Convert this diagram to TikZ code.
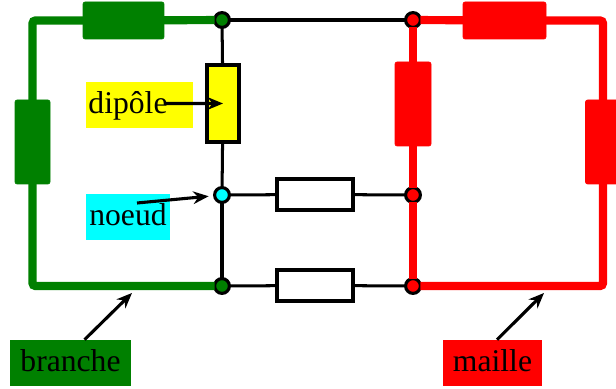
\documentclass[tikz,border=0pt]{standalone}
\usepackage{fontspec}
\setmainfont{Liberation Serif}
\usepackage{tikz}
\usetikzlibrary{arrows.meta}
\definecolor{vert}{RGB}{0,128,0}
\definecolor{rouge}{RGB}{255,0,0}
\definecolor{jaune}{RGB}{255,255,0}
\definecolor{bleu}{RGB}{0,255,255}
\tikzset{
  noeud/.style={circle,draw=black,line width=2.2pt,minimum size=0.37cm,inner sep=0pt,outer sep=0pt},
  plein/.style={rectangle,rounded corners=1.5pt,inner sep=0pt,outer sep=0pt,fill=#1,draw=#1,line width=0.5pt},
  ouvert/.style={rectangle,inner sep=0pt,outer sep=0pt,draw=black,line width=2.15pt},
  etiquette/.style={rectangle,inner sep=0pt,minimum height=1.15cm,text height=16pt,text depth=3.8pt,font=\fontsize{22.5}{27}\selectfont},
  fil/.style={line width=2.15pt},
  filcolore/.style={line width=5.8pt,draw=#1,rounded corners=2pt},
  fleche/.style={-{Stealth[length=11pt,width=9pt]},line width=2.2pt}
}
\begin{document}
\begin{tikzpicture}
\useasboundingbox (0,0) rectangle (15.4,9.725);

\node[noeud,fill=vert] (GH) at (5.55,9.225) {};
\node[noeud,fill=rouge] (RH) at (10.325,9.225) {};
\node[noeud,fill=bleu] (BM) at (5.55,4.85) {};
\node[noeud,fill=rouge] (RM) at (10.325,4.85) {};
\node[noeud,fill=vert] (GB) at (5.55,2.575) {};
\node[noeud,fill=rouge] (RB) at (10.325,2.575) {};

\node[plein=vert,minimum width=2.025cm,minimum height=0.925cm] (D1) at (3.0875,9.2125) {};
\node[plein=vert,minimum width=0.875cm,minimum height=2.1cm] (D2) at (0.8125,6.175) {};
\node[ouvert,fill=jaune,minimum width=0.8cm,minimum height=1.925cm] (D3) at (5.575,7.1375) {};
\node[plein=rouge,minimum width=0.9cm,minimum height=2.1cm] (D4) at (10.325,7.125) {};
\node[plein=rouge,minimum width=2.075cm,minimum height=0.925cm] (D5) at (12.6125,9.2125) {};
\node[plein=rouge,minimum width=0.875cm,minimum height=2.1cm] (D6) at (15.075,6.175) {};
\node[ouvert,minimum width=1.9cm,minimum height=0.775cm] (D7) at (7.875,4.8625) {};
\node[ouvert,minimum width=1.9cm,minimum height=0.775cm] (D8) at (7.875,2.5875) {};

\draw[fil] (GH) -- (RH);
\draw[fil] (GH) -- (D3);
\draw[fil] (D3) -- (BM);
\draw[fil] (BM) -- (GB);
\draw[fil] (BM) -- (D7);
\draw[fil] (D7) -- (RM);
\draw[fil] (GB) -- (D8);
\draw[fil] (D8) -- (RB);

\draw[filcolore=vert] (GH) -- (D1);
\draw[filcolore=vert] (D1.west) -| (D2.north);
\draw[filcolore=vert] (D2.south) |- (GB.west);

\draw[filcolore=rouge] (RH) -- (D5);
\draw[filcolore=rouge] (D5.east) -| (D6.north);
\draw[filcolore=rouge] (D6.south) |- (RB.east);
\draw[filcolore=rouge] (RH) -- (D4);
\draw[filcolore=rouge] (D4) -- (RM);
\draw[filcolore=rouge] (RM) -- (RB);

\node[etiquette,fill=jaune,minimum width=2.675cm,text width=2.55cm,align=left] (Ldipole) at (3.4875,7.1) {dipôle};
\node[etiquette,fill=bleu,minimum width=2.1cm] (Lnoeud) at (3.2,4.3) {noeud};
\node[etiquette,fill=vert,minimum width=3.025cm] (Lbranche) at (1.7625,0.65) {branche};
\node[etiquette,fill=rouge,minimum width=2.475cm] (Lmaille) at (12.3125,0.65) {maille};

\coordinate (Tbranche) at (3.3,2.4);
\coordinate (Tmaille) at (13.6,2.4);

\draw[fleche] ([xshift=0.65cm,yshift=0.0375cm]Ldipole.center) -- (D3.center);
\draw[fleche,shorten >=0.15cm] ([xshift=0.225cm,yshift=0.35cm]Lnoeud.center) -- (BM);
\draw[fleche] ([xshift=0.35cm]Lbranche.north) -- (Tbranche);
\draw[fleche] ([xshift=0.1125cm]Lmaille.north) -- (Tmaille);
\end{tikzpicture}
\end{document}
